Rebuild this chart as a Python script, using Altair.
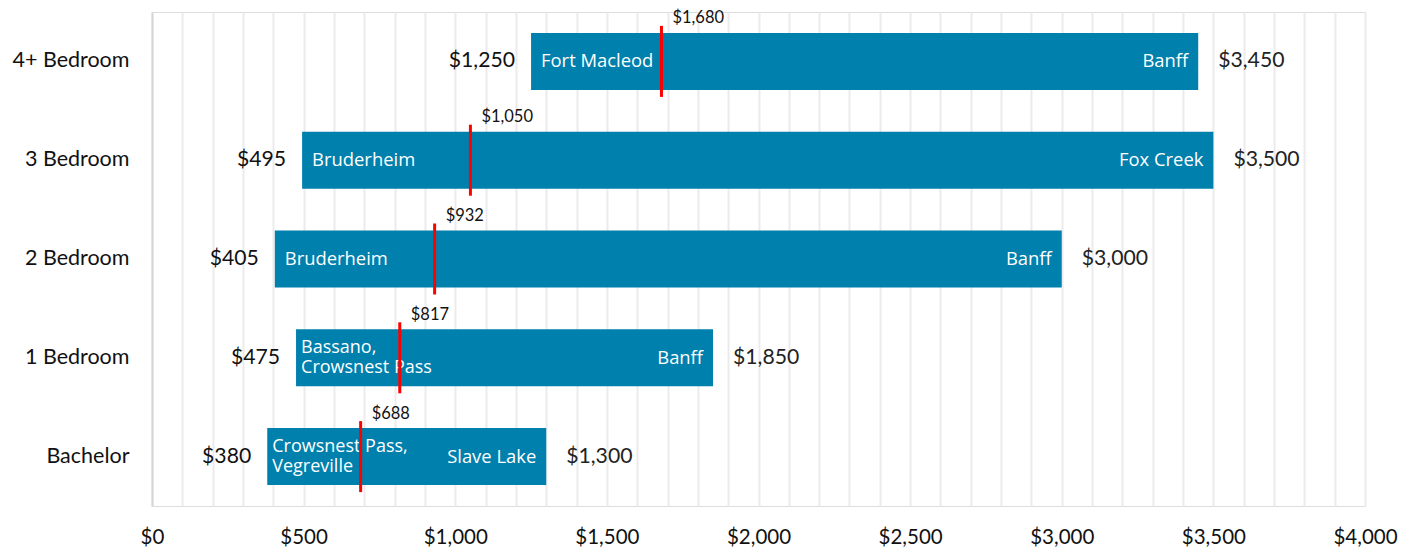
import altair as alt
import pandas as pd

categories = ["4+ Bedroom", "3 Bedroom", "2 Bedroom", "1 Bedroom", "Bachelor"]
min_rent = [1250, 495, 405, 475, 380]
max_rent = [3450, 3500, 3000, 1850, 1300]
median_rent = [1680, 1050, 932, 817, 688]
min_city = ["Fort Macleod", "Bruderheim", "Bruderheim", "Bassano,\nCrowsnest Pass", "Crowsnest Pass,\nVegreville"]
max_city = ["Banff", "Fox Creek", "Banff", "Banff", "Slave Lake"]
x_ticks = list(range(0, 4001, 100))

df = pd.DataFrame({
    "cat": categories,
    "lo": min_rent,
    "hi": max_rent,
    "med": median_rent,
    "lo_city": min_city,
    "hi_city": max_city,
})
df["lo_lbl"] = df["lo"].map(lambda v: f"${v:,}")
df["hi_lbl"] = df["hi"].map(lambda v: f"${v:,}")
df["med_lbl"] = df["med"].map(lambda v: f"${v:,}")
df["two_line"] = df["lo_city"].str.contains("\n")

FONT = "Lato"
CITY_FONT = "Open Sans"
BAR = "#0080AD"

x_scale = alt.Scale(domain=[0, 4000], nice=False, zero=True)
y_enc = alt.Y("cat:N", sort=categories, title=None,
              axis=alt.Axis(labelFontSize=21.5, labelPadding=23, ticks=False,
                            domain=True, domainColor="#d6d6d6", domainWidth=2,
                            labelColor="#111111", labelFont=FONT))

base = alt.Chart(df).encode(y=y_enc)

bars = base.mark_bar(size=57, color=BAR).encode(
    x=alt.X("lo:Q", scale=x_scale, title=None,
            axis=alt.Axis(values=x_ticks, tickCount=200,
                          labelExpr="datum.value % 500 === 0 ? '$' + format(datum.value, ',') : ''",
                          labelFontSize=20.5, labelPadding=21, ticks=False, domain=False,
                          labelOverlap=False,
                          grid=True, gridColor="#ebebeb", gridWidth=2,
                          labelColor="#111111", labelFont=FONT, labelFlush=False)),
    x2="hi:Q",
)

lo_city_1 = base.transform_filter("!datum.two_line").mark_text(
    align="left", baseline="middle", dx=10, color="white",
    fontSize=18.4, font=CITY_FONT).encode(
    x=alt.X("lo:Q", scale=x_scale), text="lo_city:N")
lo_city_2 = base.transform_filter("datum.two_line").mark_text(
    align="left", baseline="middle", dx=5, dy=-10, color="white",
    fontSize=18, font=CITY_FONT, lineBreak="\n", lineHeight=20).encode(
    x=alt.X("lo:Q", scale=x_scale), text="lo_city:N")
hi_city = base.mark_text(align="right", baseline="middle", dx=-10, color="white",
                         fontSize=18.4, font=CITY_FONT).encode(
    x=alt.X("hi:Q", scale=x_scale), text="hi_city:N")

lo_lbl = base.mark_text(align="right", baseline="middle", dx=-16, color="#111111",
                        fontSize=21.2, font=FONT).encode(
    x=alt.X("lo:Q", scale=x_scale), text="lo_lbl:N")
hi_lbl = base.mark_text(align="left", baseline="middle", dx=20, color="#222222",
                        fontSize=21.2, font=FONT).encode(
    x=alt.X("hi:Q", scale=x_scale), text="hi_lbl:N")

med_tick = base.mark_tick(color="#ff0000", size=71, thickness=3, orient="vertical",
                          opacity=1).encode(
    x=alt.X("med:Q", scale=x_scale))
med_lbl = base.mark_text(align="left", baseline="middle", dx=11, dy=-43, color="#111111",
                         fontSize=16.5, font=FONT).encode(
    x=alt.X("med:Q", scale=x_scale), text="med_lbl:N")

chart = alt.layer(bars, lo_city_1, lo_city_2, hi_city, lo_lbl, hi_lbl, med_tick, med_lbl).properties(
    width=1213, height=494,
    autosize=alt.AutoSizeParams(type="none"),
    padding={"left": 152, "top": 12, "right": 41, "bottom": 44},
).configure_view(stroke=None).configure(background="white")

chart.save("out.html", embed_options={"renderer": "svg", "actions": False})
